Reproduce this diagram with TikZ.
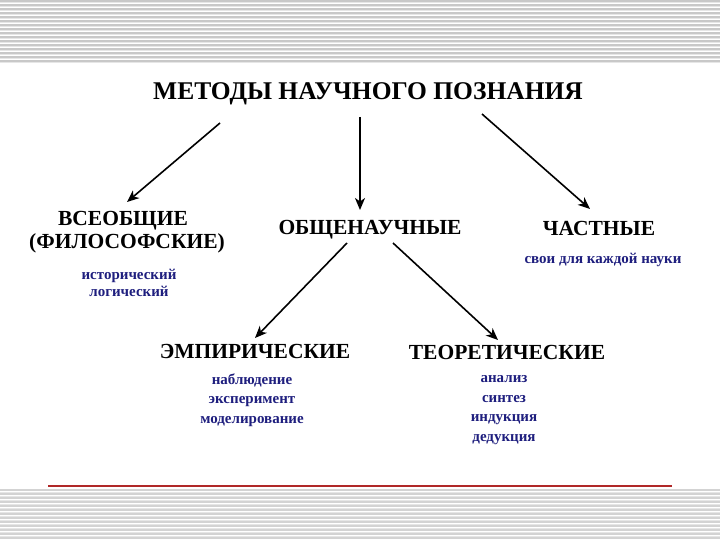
\documentclass[tikz,border=0pt]{standalone}
\usepackage{fontspec}
\setmainfont{Liberation Serif}
\usepackage{xcolor}
\definecolor{listBlue}{HTML}{1E1E7E}
\definecolor{ruleRed}{HTML}{B02828}
\definecolor{stripeDark}{HTML}{C8C8C8}
\definecolor{stripeLight}{HTML}{E6E6E6}
\usetikzlibrary{arrows.meta,calc}

\begin{document}
\begin{tikzpicture}[x=1pt,y=-1pt,
    heading/.style={inner sep=0pt, font=\fontsize{21.5}{24}\selectfont\bfseries},
    listtext/.style={inner sep=0pt, align=center, text=listBlue,
      font=\fontsize{15}{19.5}\selectfont\bfseries},
    arr/.style={line width=1.6pt, -{Stealth[length=12pt,width=10pt,inset=3.5pt]}}]
  \useasboundingbox (0,0) rectangle (720,540);
  \fill[white] (0,0) rectangle (720,540);
  % striped bands
  \foreach \y in {1,5,...,61} {
    \draw[stripeDark, line width=1.3pt] (0,\y) -- (720,\y);
    \draw[stripeLight, line width=1pt] (0,\y+2) -- (720,\y+2);
  }
  \foreach \y in {490,494,...,538} {
    \draw[stripeDark!80, line width=1.2pt] (0,\y) -- (720,\y);
    \draw[stripeLight, line width=1pt] (0,\y+2) -- (720,\y+2);
  }
  \draw[ruleRed, line width=1.2pt] (48,486) -- (672,486);

  \node[heading, font=\fontsize{25.5}{28}\selectfont\bfseries] (title) at (368,94) {МЕТОДЫ НАУЧНОГО ПОЗНАНИЯ};

  \node[heading] (vseob) at (123,221) {ВСЕОБЩИЕ};
  \node[heading] (filos) at (127,243) {(ФИЛОСОФСКИЕ)};
  \node[listtext, font=\fontsize{15}{17.5}\selectfont\bfseries] (hist) at (129,283) {исторический\\логический};

  \node[heading] (obsh) at (370,230) {ОБЩЕНАУЧНЫЕ};

  \node[heading] (chast) at (599,228) {ЧАСТНЫЕ};
  \node[listtext] (svoi) at (603,260) {свои для каждой науки};

  \node[heading] (empir) at (255,351) {ЭМПИРИЧЕСКИЕ};
  \node[listtext] (emplist) at (252,400) {наблюдение\\эксперимент\\моделирование};

  \node[heading] (teor) at (507,352) {ТЕОРЕТИЧЕСКИЕ};
  \node[listtext] (teorlist) at (504,410) {анализ\\синтез\\индукция\\дедукция};

  \draw[arr] ($(title)+(-148,29)$) -- ($(vseob)+(4,-19)$);
  \draw[arr] ($(title)+(-8,23)$) -- ($(obsh)+(-10,-20)$);
  \draw[arr] ($(title)+(114,20)$) -- ($(chast)+(-9,-19)$);
  \draw[arr] ($(obsh)+(-23,13)$) -- ($(empir)+(0,-13)$);
  \draw[arr] ($(obsh)+(23,13)$) -- ($(teor)+(-9,-12)$);
\end{tikzpicture}
\end{document}
